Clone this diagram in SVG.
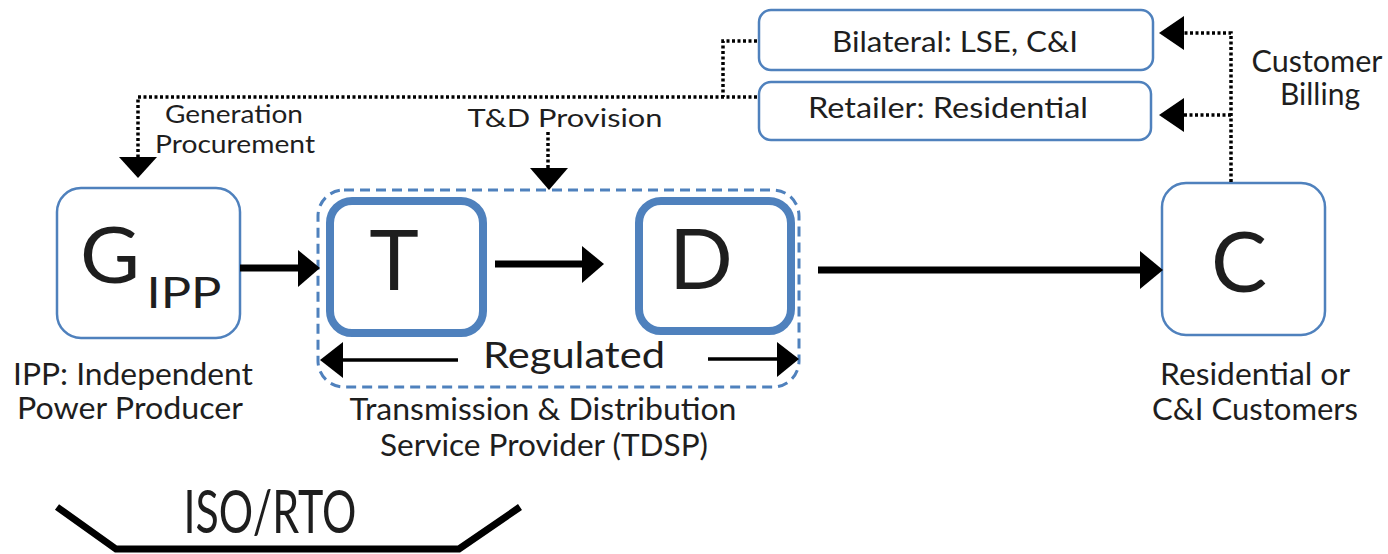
<svg xmlns="http://www.w3.org/2000/svg" width="1388" height="554" viewBox="0 0 1388 554">
<style>
text{font-family:Lato,"Open Sans","Liberation Sans",sans-serif;fill:#1e1e1e;text-anchor:middle}
.box{fill:#fff;stroke:#4f81bd;stroke-width:2.5}
.thick{fill:#fff;stroke:#4f81bd;stroke-width:8}
.dash{fill:none;stroke:#4f81bd;stroke-width:3;stroke-dasharray:10 6}
.dot{fill:none;stroke:#000;stroke-width:3.5;stroke-dasharray:3 2.5}
.solid{fill:none;stroke:#000;stroke-width:7}
.thin{fill:none;stroke:#000;stroke-width:3.5}
.head{fill:#000}
.lbl{font-size:30px}
.sm{font-size:25px}
.big{font-size:84px}
</style>
<rect width="1388" height="554" fill="#fff"/>
<g id="tdsp">
<rect class="dash" x="318" y="190" width="481" height="197" rx="26"/>
<text x="574" y="368" font-size="37" textLength="182" lengthAdjust="spacingAndGlyphs">Regulated</text>
<text class="lbl" x="543" y="420" textLength="387" lengthAdjust="spacingAndGlyphs">Transmission &amp; Distribution</text>
<text class="lbl" x="544" y="456" textLength="328" lengthAdjust="spacingAndGlyphs">Service Provider (TDSP)</text>
</g>
<g id="G">
<rect class="box" x="57" y="188" width="183" height="150" rx="24"/>
<text x="110" y="283" font-size="78" textLength="60" lengthAdjust="spacingAndGlyphs">G</text>
<text x="184" y="308" font-size="43" textLength="75" lengthAdjust="spacingAndGlyphs">IPP</text>
<text class="lbl" x="133" y="385" textLength="240" lengthAdjust="spacingAndGlyphs">IPP: Independent</text>
<text class="lbl" x="130" y="419" textLength="226" lengthAdjust="spacingAndGlyphs">Power Producer</text>
</g>
<g id="T">
<rect class="thick" x="330" y="201" width="153" height="132" rx="22"/>
<text class="big" x="394" y="290">T</text>
</g>
<g id="D">
<rect class="thick" x="639" y="201" width="152" height="130" rx="22"/>
<text class="big" x="701" y="289">D</text>
</g>
<g id="C">
<rect class="box" x="1162" y="183" width="163" height="152" rx="24"/>
<text class="big" x="1239" y="292">C</text>
<text class="lbl" x="1255" y="385" textLength="190" lengthAdjust="spacingAndGlyphs">Residential or</text>
<text class="lbl" x="1255" y="420" textLength="206" lengthAdjust="spacingAndGlyphs">C&amp;I Customers</text>
</g>
<g id="bilateral">
<rect class="box" x="759" y="10" width="394" height="60" rx="12"/>
<text font-size="28" x="955" y="52" textLength="246" lengthAdjust="spacingAndGlyphs">Bilateral: LSE, C&amp;I</text>
</g>
<g id="retailer">
<rect class="box" x="759" y="82" width="392" height="58" rx="12"/>
<text font-size="28" x="948" y="118" textLength="280" lengthAdjust="spacingAndGlyphs">Retailer: Residential</text>
</g>
<g id="labels">
<text class="sm" x="234" y="123" textLength="138" lengthAdjust="spacingAndGlyphs">Generation</text>
<text class="sm" x="235" y="153" textLength="160" lengthAdjust="spacingAndGlyphs">Procurement</text>
<text class="sm" x="565" y="127" textLength="195" lengthAdjust="spacingAndGlyphs">T&amp;D Provision</text>
<text class="lbl" x="1317" y="72" textLength="131" lengthAdjust="spacingAndGlyphs">Customer</text>
<text class="lbl" x="1320" y="105" textLength="80" lengthAdjust="spacingAndGlyphs">Billing</text>
</g>
<g id="iso">
<polyline class="solid" points="57,507 116,549 459,549 520,507"/>
<text x="270" y="533" font-size="60" textLength="173" lengthAdjust="spacingAndGlyphs">ISO/RTO</text>
</g>
<g id="connectors">
<path class="dot" d="M757,97 H138 V158"/>
<path class="dot" d="M757,41 H723 V97"/>
<polygon class="head" points="119,157 157,157 138,178"/>
<path class="dot" d="M548,132 V168"/>
<polygon class="head" points="530,168 568,168 549,190"/>
<path class="dot" d="M1231,182 V33 H1183"/>
<path class="dot" d="M1231,115 H1183"/>
<polygon class="head" points="1184,16 1184,50 1159,33"/>
<polygon class="head" points="1184,98 1184,132 1159,115"/>
<line class="solid" x1="240" y1="268" x2="300" y2="268"/>
<polygon class="head" points="298,250 298,287 320,268"/>
<line class="solid" x1="495" y1="264" x2="584" y2="264"/>
<polygon class="head" points="582,246 582,283 604,264"/>
<line class="solid" x1="818" y1="270" x2="1142" y2="270"/>
<polygon class="head" points="1140,251 1140,289 1163,270"/>
<line class="thin" x1="458" y1="360" x2="341" y2="360"/>
<polygon class="head" points="343,342 343,378 320,360"/>
<line class="thin" x1="708" y1="359" x2="779" y2="359"/>
<polygon class="head" points="777,342 777,377 799,359"/>
</g>
</svg>
